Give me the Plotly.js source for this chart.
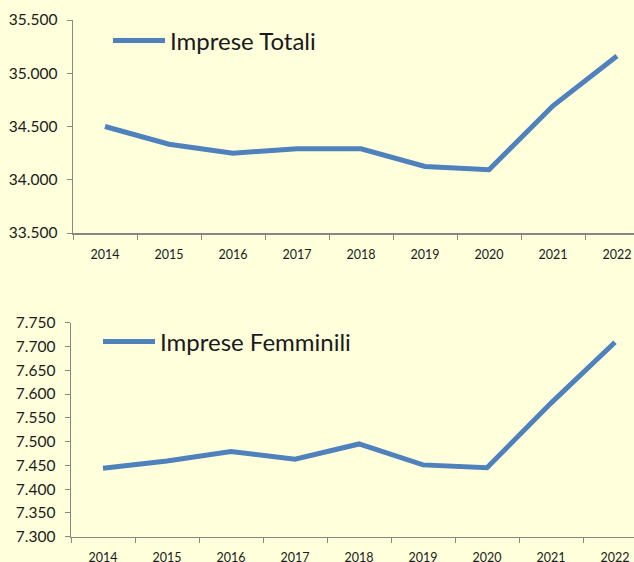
<!DOCTYPE html>
<html>
<head>
<meta charset="utf-8">
<script src="https://cdn.plot.ly/plotly-3.0.1.min.js"></script>
<style>html,body{margin:0;padding:0;background:#FFFFDC;}</style>
</head>
<body>
<div id="chart" style="width:634px;height:562px;"></div>
<script>
const years = ["2014","2015","2016","2017","2018","2019","2020","2021","2022"];
const impreseTotali = [34500, 34334, 34250, 34291, 34291, 34125, 34094, 34694, 35162];
const impreseFemminili = [7444, 7459, 7479, 7463, 7495, 7451, 7445, 7581, 7709];
const nameTotali = "Imprese Totali";
const nameFemminili = "Imprese Femminili";

const W = 634, H = 562;
const lineColor = "#4F81BD";
const axisColor = "#878787";
const fontFam = "Lato, 'Open Sans', sans-serif";

const traces = [
  {x: years, y: impreseTotali, type: "scatter", mode: "lines", name: nameTotali,
   line: {color: lineColor, width: 5}, xaxis: "x", yaxis: "y", legend: "legend"},
  {x: years, y: impreseFemminili, type: "scatter", mode: "lines", name: nameFemminili,
   line: {color: lineColor, width: 5}, xaxis: "x2", yaxis: "y2", legend: "legend2"}
];

const commonX = {
  type: "category", tickson: "boundaries", ticks: "outside", ticklen: 5,
  tickcolor: axisColor, showline: true, linecolor: axisColor, linewidth: 1.5,
  showgrid: false, zeroline: false, fixedrange: true, ticklabelstandoff: 9,
  tickfont: {family: fontFam, size: 12.5, color: "#1a1a1a"}
};
const commonY = {
  ticks: "outside", ticklen: 5, tickcolor: axisColor, showline: true,
  linecolor: axisColor, linewidth: 1.5, showgrid: false, zeroline: false,
  tickformat: ",d", fixedrange: true, ticklabelstandoff: 6,
  tickfont: {family: fontFam, size: 15.5, color: "#1a1a1a"}
};

const layout = {
  width: W, height: H,
  margin: {l: 0, r: 0, t: 0, b: 0},
  paper_bgcolor: "#FFFFDC", plot_bgcolor: "#FFFFDC",
  separators: ",.",
  font: {family: fontFam, color: "#1a1a1a"},
  xaxis: Object.assign({}, commonX, {domain: [73/W, 1], anchor: "y", range: [-0.5, -0.5 + (W-73)/64]}),
  yaxis: Object.assign({}, commonY, {domain: [(H-233)/H, (H-20)/H], anchor: "x", range: [33500, 35500], dtick: 500}),
  xaxis2: Object.assign({}, commonX, {domain: [71/W, 1], anchor: "y2", range: [-0.5, -0.5 + (W-71)/64]}),
  yaxis2: Object.assign({}, commonY, {domain: [(H-536.7)/H, (H-322.7)/H], anchor: "x2", range: [7300, 7750], dtick: 50}),
  showlegend: true,
  legend: {x: 108/W, y: (H-41)/H, xanchor: "left", yanchor: "middle", bgcolor: "rgba(0,0,0,0)",
           itemwidth: 52, font: {family: fontFam, size: 24, color: "#1a1a1a"}},
  legend2: {x: 98/W, y: (H-342)/H, xanchor: "left", yanchor: "middle", bgcolor: "rgba(0,0,0,0)",
           itemwidth: 52, font: {family: fontFam, size: 24, color: "#1a1a1a"}}
};

Plotly.newPlot("chart", traces, layout, {displayModeBar: false, staticPlot: true});
</script>
</body>
</html>
